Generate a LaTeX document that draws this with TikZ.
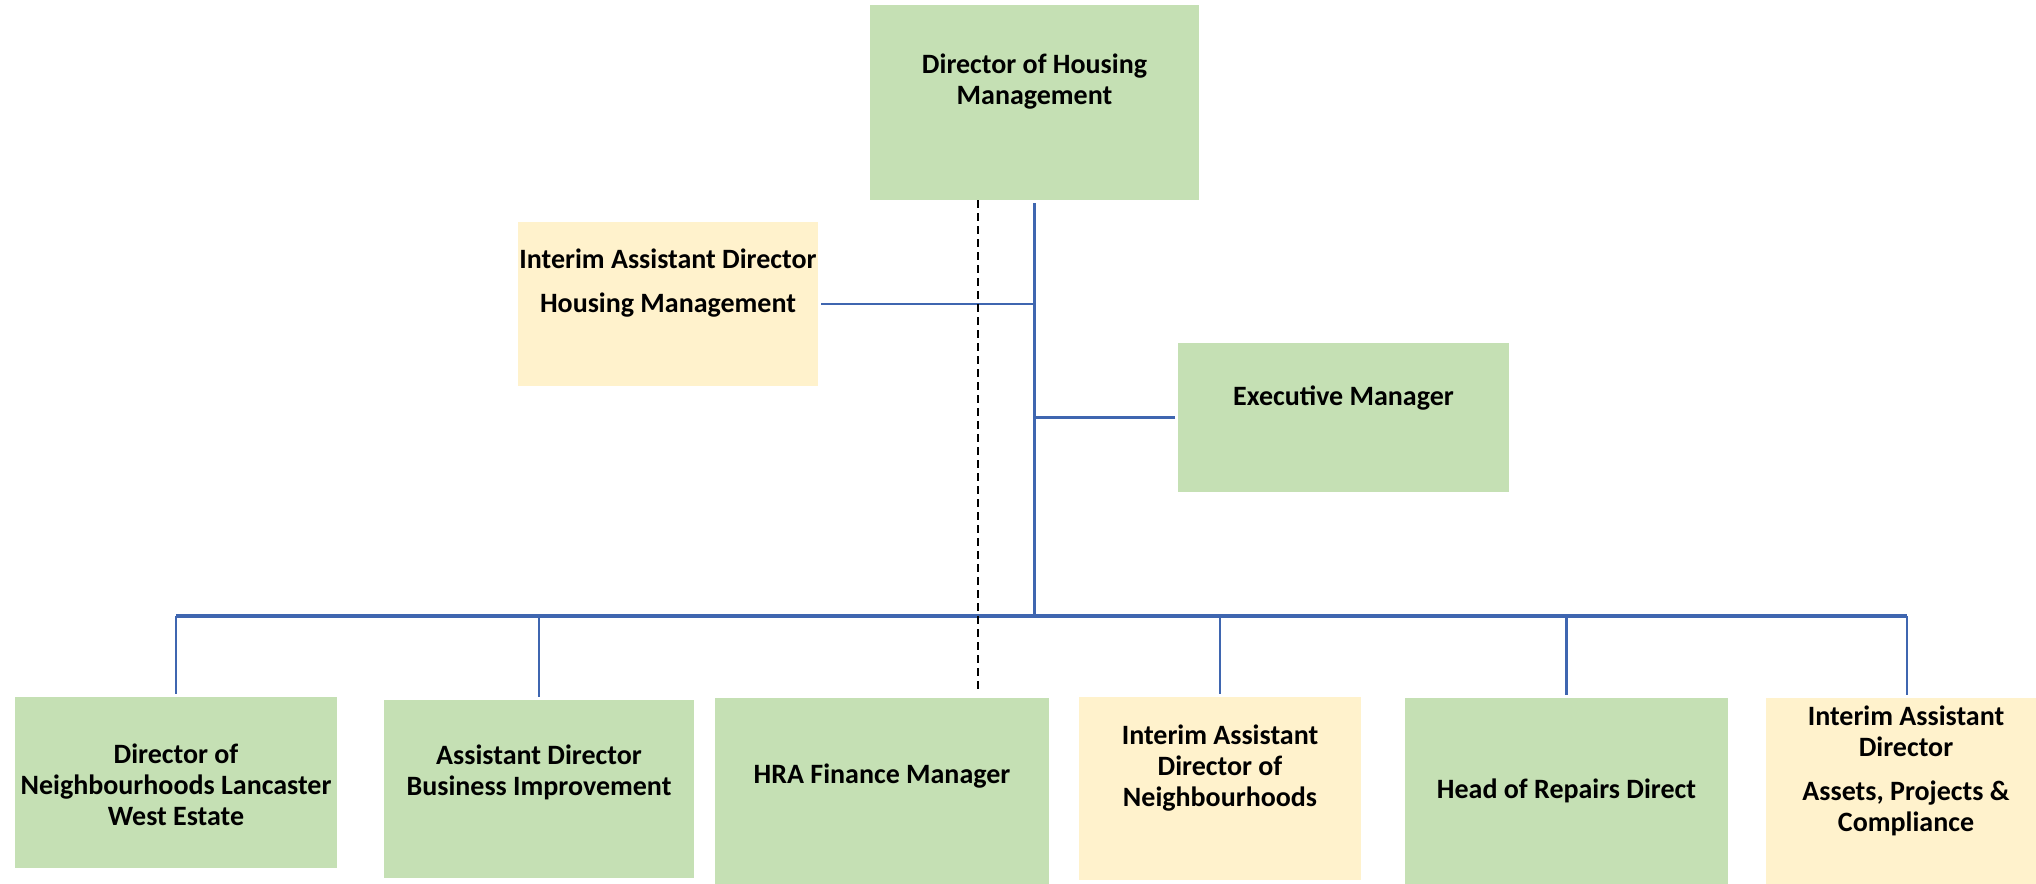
\documentclass[tikz,border=0pt]{standalone}
\usepackage{fontspec}
\setmainfont{Carlito}
\usepackage{xcolor}

\definecolor{boxgreen}{HTML}{C5E0B4}
\definecolor{boxyellow}{HTML}{FFF2CC}
\definecolor{linkblue}{HTML}{3F66B0}

\tikzset{
  post/.style={inner sep=0pt,outer sep=0pt},
  caption/.style={align=center,inner sep=0pt,font=\fontsize{28}{31}\selectfont\bfseries},
  trunk/.style={draw=linkblue,line width=3.5pt},
  branch/.style={draw=linkblue,line width=2.3pt},
  advisory/.style={draw=black,line width=2pt,dash pattern=on 8pt off 5pt}
}

\begin{document}
\begin{tikzpicture}[x=1pt,y=-1pt]
    \useasboundingbox (0,0) rectangle (2036,883);
    \clip (0,0) rectangle (2036,883);

    % boxes
    \node (dir) at (1034.5,102.5) [post,fill=boxgreen,minimum width=329pt,minimum height=195pt] {};
    \node (iadhm) at (668,304) [post,fill=boxyellow,minimum width=300pt,minimum height=164pt] {};
    \node (exec) at (1343.5,417.5) [post,fill=boxgreen,minimum width=331pt,minimum height=149pt] {};
    \node (dnl) at (176,782.5) [post,fill=boxgreen,minimum width=322pt,minimum height=171pt] {};
    \node (adbi) at (539,789) [post,fill=boxgreen,minimum width=310pt,minimum height=178pt] {};
    \node (hra) at (882,791.5) [post,fill=boxgreen,minimum width=334pt,minimum height=187pt] {};
    \node (iadn) at (1220,788.5) [post,fill=boxyellow,minimum width=282pt,minimum height=183pt] {};
    \node (hrd) at (1566.5,791.5) [post,fill=boxgreen,minimum width=323pt,minimum height=187pt] {};
    \node (iadapc) at (1907,791.5) [post,fill=boxyellow,minimum width=282pt,minimum height=187pt] {};

    % texts
    \node (dirtext) at (1034.5,82) [caption] {Director of Housing\\Management};
    \node (iadhmtext) at (668,283) [caption] {Interim Assistant Director\\[13pt]Housing Management};
    \node (exectext) at (1343.5,398) [caption] {Executive Manager};
    \node (dnltext) at (176,785) [caption] {Director of\\Neighbourhoods Lancaster\\West Estate};
    \node (adbitext) at (539,772) [caption] {Assistant Director\\Business Improvement};
    \node (hratext) at (882,776) [caption] {HRA Finance Manager};
    \node (iadntext) at (1220,768) [caption] {Interim Assistant\\Director of\\Neighbourhoods};
    \node (hrdtext) at (1566.5,791) [caption] {Head of Repairs Direct};
    \node (iadapctext) at (1906,771) [caption] {Interim Assistant\\Director\\[13pt]Assets, Projects \&\\Compliance};

    % links
    \coordinate (bus) at (1034.5,616);
    \coordinate (dash) at (978,0);
    \draw[trunk] (dir.south) ++(0,3) -- (bus);
    \draw[branch,shorten <=3pt] (iadhm.east) -- (iadhm.east -| bus);
    \draw[branch,shorten <=3pt] (exec.west) -- (exec.west -| bus);
    \draw[trunk] (bus -| dnl.north) -- (bus -| iadapc.north);
    \foreach \n in {dnl,adbi,iadn,hrd,iadapc}
        \draw[branch,shorten >=3pt] (bus -| \n.north) -- (\n.north);
    \draw[advisory,shorten >=5pt] (dir.south -| dash) -- (hra.north -| dash);
\end{tikzpicture}
\end{document}
